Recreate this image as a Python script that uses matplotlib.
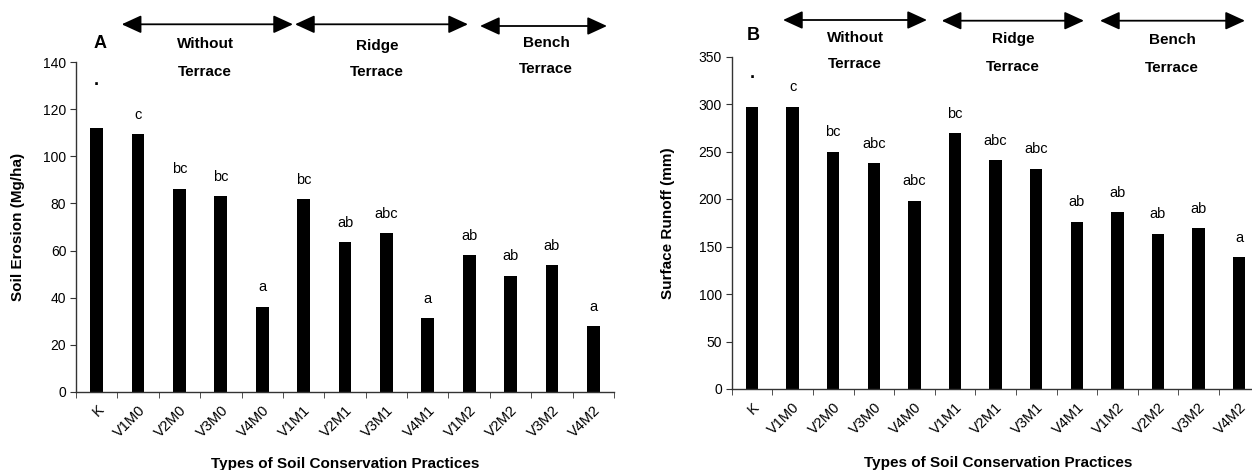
import numpy as np
import matplotlib
matplotlib.use("Agg")
import matplotlib.pyplot as plt
from matplotlib.patches import FancyArrowPatch

plt.rcParams['font.family'] = ['Liberation Sans', 'DejaVu Sans']

# ---- data ----
treatments = ['K', 'V1M0', 'V2M0', 'V3M0', 'V4M0', 'V1M1', 'V2M1', 'V3M1',
              'V4M1', 'V1M2', 'V2M2', 'V3M2', 'V4M2']

erosion = [112.0, 109.4, 86.3, 83.0, 36.1, 81.9, 63.5, 67.3, 31.3, 58.0, 49.3, 53.7, 27.9]
erosion_letters = ['.', 'c', 'bc', 'bc', 'a', 'bc', 'ab', 'abc', 'a', 'ab', 'ab', 'ab', 'a']

runoff = [297, 297, 250, 237.5, 198, 269, 241, 232, 176, 186, 163.5, 169, 138.5]
runoff_letters = ['.', 'c', 'bc', 'abc', 'abc', 'bc', 'abc', 'abc', 'ab', 'ab', 'ab', 'ab', 'a']

groups = ['Without', 'Ridge', 'Bench']

W, H = 1252, 470
fig = plt.figure(figsize=(W / 100, H / 100), dpi=100)


def fx(x):
    return x / W


def fy(y):
    return 1 - y / H


def bar_panel(rect, values, letters, ymax, ystep, ylabel, dot_off):
    ax = fig.add_axes(rect)
    x = np.arange(len(treatments))
    ax.bar(x, values, width=0.31, color='black')
    ax.set_xlim(-0.5, len(treatments) - 0.5)
    ax.set_ylim(0, ymax)
    ax.set_yticks(np.arange(0, ymax + 1, ystep))
    for s in ['top', 'right']:
        ax.spines[s].set_visible(False)
    for s in ['left', 'bottom']:
        ax.spines[s].set_color('#333333')
        ax.spines[s].set_linewidth(1.0)
    ax.set_xticks(x)
    ax.set_xticklabels(treatments, rotation=45, ha='right', va='top',
                       rotation_mode='anchor', fontsize=10.5)
    ax.set_xticks(np.arange(-0.5, len(treatments), 1), minor=True)
    ax.tick_params(axis='x', which='major', length=0, pad=8)
    ax.tick_params(axis='x', which='minor', length=4, direction='out', color='#333333')
    ax.tick_params(axis='y', length=4, direction='out', labelsize=10, pad=3, color='#333333')
    ax.set_ylabel(ylabel, fontsize=11, fontweight='bold')
    ax.set_xlabel('Types of Soil Conservation Practices', fontsize=11, fontweight='bold')
    for xi, v, lab in zip(x, values, letters):
        if lab == '.':
            ax.annotate(lab, (xi, v), xytext=(0, dot_off), textcoords='offset points',
                        ha='center', va='baseline', fontsize=13, fontweight='bold')
        else:
            ax.annotate(lab, (xi, v), xytext=(0, 14), textcoords='offset points',
                        ha='center', va='center', fontsize=10.5)
    return ax


axA = bar_panel([fx(76), fy(391.7), fx(538), 329.4 / H], erosion, erosion_letters,
                140, 20, 'Soil Erosion (Mg/ha)', 31)
axA.yaxis.set_label_coords(-0.095, 0.5)
axA.xaxis.set_label_coords(0.5, -0.197)

axB = bar_panel([fx(731.7), fy(389), fx(527.8), 332.5 / H], runoff, runoff_letters,
                350, 50, 'Surface Runoff (mm)', 21)
axB.yaxis.set_label_coords(-0.107, 0.5)
axB.xaxis.set_label_coords(0.505, -0.203)

# panel letters
fig.text(fx(100), fy(44), 'A', fontsize=13, fontweight='bold', ha='center', va='center')
fig.text(fx(753), fy(35), 'B', fontsize=13, fontweight='bold', ha='center', va='center')

# group arrows and labels (pixel positions from the reference)
# (x start, x end, arrow y, text x, first line y, second line y)
arrowsA = [(121.7, 293, 24.3, 205, 44.3, 71.7),
           (295, 468, 24.3, 377, 45.7, 71.7),
           (480, 607, 26, 546, 42.7, 69)]
arrowsB = [(783, 927, 20, 855, 37.7, 64.3),
           (941.7, 1084, 20.7, 1013, 39.3, 66.7),
           (1100, 1245, 20.7, 1172, 40, 67.7)]
for arrows in (arrowsA, arrowsB):
    for (x0, x1, y, tx, ty1, ty2), g in zip(arrows, groups):
        fig.add_artist(FancyArrowPatch(
            (fx(x0), fy(y)), (fx(x1), fy(y)), transform=fig.transFigure,
            arrowstyle='<|-|>,head_length=12,head_width=5.5', color='black',
            linewidth=1.3, shrinkA=0, shrinkB=0, mutation_scale=1))
        fig.text(fx(tx), fy(ty1), g, fontsize=11, fontweight='bold',
                 ha='center', va='center')
        fig.text(fx(tx), fy(ty2), 'Terrace', fontsize=11, fontweight='bold',
                 ha='center', va='center')

fig.savefig('out.png', dpi=100)
